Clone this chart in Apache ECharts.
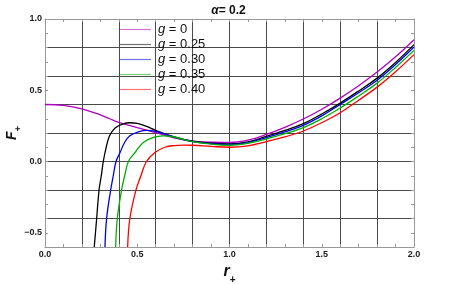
<!DOCTYPE html>
<html><head><meta charset="utf-8">
<script src="https://cdn.jsdelivr.net/npm/echarts@6/dist/echarts.min.js"></script>
<style>html,body{margin:0;padding:0;background:#fff}#c{width:457px;height:284px}</style>
</head><body><div id="c"></div>
<script>
// ---- data ----
const seriesNames = ['g = 0', 'g = 0.25', 'g = 0.30', 'g = 0.35', 'g = 0.40'];

const r_g0  = [0, 0.1, 0.2, 0.3, 0.35, 0.4, 0.5, 0.6, 0.7, 0.8, 0.9, 1.0, 1.1, 1.2, 1.3, 1.4, 1.5, 1.6, 1.7, 1.8, 1.9, 2.0];
const F_g0  = [0.400, 0.394, 0.370, 0.327, 0.300, 0.275, 0.238, 0.202, 0.166, 0.143, 0.135, 0.134, 0.150, 0.190, 0.240, 0.298, 0.367, 0.445, 0.532, 0.628, 0.735, 0.855];

const r_g25 = [0.267, 0.28, 0.293, 0.305, 0.316, 0.33, 0.35, 0.38, 0.42, 0.46, 0.5, 0.55, 0.6, 0.7, 0.8, 0.9, 1.0, 1.1, 1.2, 1.3, 1.4, 1.5, 1.6, 1.7, 1.8, 1.9, 2.0];
const F_g25 = [-0.6, -0.4, -0.2, -0.1, 0.0, 0.09, 0.18, 0.235, 0.263, 0.272, 0.267, 0.246, 0.218, 0.172, 0.142, 0.128, 0.124, 0.138, 0.176, 0.218, 0.266, 0.333, 0.410, 0.495, 0.585, 0.695, 0.820];

const r_g30 = [0.325, 0.334, 0.356, 0.37, 0.385, 0.407, 0.43, 0.46, 0.515, 0.55, 0.6, 0.7, 0.8, 0.9, 1.0, 1.1, 1.2, 1.3, 1.4, 1.5, 1.6, 1.7, 1.8, 1.9, 2.0];
const F_g30 = [-0.6, -0.4, -0.2, -0.1, 0.0, 0.063, 0.13, 0.18, 0.212, 0.219, 0.211, 0.171, 0.140, 0.126, 0.120, 0.133, 0.168, 0.208, 0.254, 0.320, 0.400, 0.482, 0.570, 0.680, 0.803];

const r_g35 = [0.383, 0.392, 0.415, 0.432, 0.452, 0.488, 0.533, 0.587, 0.64, 0.7, 0.8, 0.9, 1.0, 1.1, 1.2, 1.3, 1.4, 1.5, 1.6, 1.7, 1.8, 1.9, 2.0];
const F_g35 = [-0.6, -0.4, -0.2, -0.1, 0.0, 0.063, 0.134, 0.169, 0.180, 0.172, 0.139, 0.122, 0.114, 0.128, 0.158, 0.195, 0.238, 0.300, 0.375, 0.460, 0.550, 0.660, 0.780];

const r_g40 = [0.448, 0.46, 0.493, 0.52, 0.55, 0.596, 0.65, 0.7, 0.75, 0.8, 0.9, 1.0, 1.1, 1.2, 1.3, 1.4, 1.5, 1.6, 1.7, 1.8, 1.9, 2.0];
const F_g40 = [-0.6, -0.4, -0.2, -0.1, 0.0, 0.063, 0.100, 0.112, 0.115, 0.114, 0.106, 0.100, 0.110, 0.140, 0.172, 0.214, 0.272, 0.342, 0.430, 0.522, 0.630, 0.750];

const xTickLabels = [0, 0.5, 1.0, 1.5, 2.0];
const xMinorTicks = [0, 0.1, 0.2, 0.3, 0.4, 0.5, 0.6, 0.7, 0.8, 0.9, 1.0, 1.1, 1.2, 1.3, 1.4, 1.5, 1.6, 1.7, 1.8, 1.9, 2.0];
const yTickLabels = [-0.5, 0.0, 0.5, 1.0];
const yMinorTicks = [-0.6, -0.5, -0.4, -0.3, -0.2, -0.1, 0.0, 0.1, 0.2, 0.3, 0.4, 0.5, 0.6, 0.7, 0.8, 0.9, 1.0];

// ---- chart ----
const rs = [r_g0, r_g25, r_g30, r_g35, r_g40];
const Fs = [F_g0, F_g25, F_g30, F_g35, F_g40];
const colors = ['#b000c0', '#000000', '#0000e0', '#00b000', '#ff0000'];
const FONT = 'Liberation Sans, Arial, sans-serif';

function fmt(v) {
  const s = Math.abs(v).toFixed(1);
  return (v < -1e-9 ? '\u2212' : '') + s;
}

const series = seriesNames.map((name, i) => ({
  name: name,
  type: 'line',
  xAxisIndex: 0,
  yAxisIndex: 0,
  data: rs[i].map((r, k) => [r, Fs[i][k]]),
  showSymbol: false,
  symbol: 'none',
  smooth: 0.4,
  clip: true,
  color: colors[i],
  lineStyle: { width: 1.3, color: colors[i] }
}));

const axisCommonX = { type: 'value', min: 0, max: 2, interval: 0.2 };
const axisCommonY = { type: 'value', min: -0.6, max: 1.0, interval: 0.2 };
const gridLine = { show: true, lineStyle: { color: '#4a4a4a', width: 1 } };
const frameLine = { show: true, onZero: false, lineStyle: { color: '#999', width: 1 } };

const option = {
  animation: false,
  backgroundColor: '#ffffff',
  textStyle: { fontFamily: FONT },
  title: {
    text: '{a|\u03B1}{b|= 0.2}',
    left: 'center',
    top: 0,
    textStyle: {
      rich: {
        a: { fontFamily: FONT, fontSize: 12, fontWeight: 'bold', fontStyle: 'italic', color: '#111' },
        b: { fontFamily: FONT, fontSize: 12, fontWeight: 'bold', color: '#111' }
      }
    }
  },
  grid: { left: 45, right: 43, top: 19, bottom: 37, containLabel: false, outerBoundsMode: 'none' },
  legend: {
    orient: 'vertical',
    left: 115,
    top: 17,
    itemWidth: 31,
    itemHeight: 1.2,
    itemGap: 0,
    icon: 'rect',
    data: seriesNames.map((n, i) => ({ name: n, itemStyle: { color: colors[i], opacity: 0.55 } })),
    formatter: n => '{i|g}{t|' + n.slice(1) + '}',
    textStyle: {
      padding: [0, 0, 0, 2],
      lineHeight: 15,
      rich: {
        i: { fontFamily: FONT, fontSize: 13, fontStyle: 'italic', color: '#111', lineHeight: 15 },
        t: { fontFamily: FONT, fontSize: 13, color: '#111', lineHeight: 15 }
      }
    }
  },
  xAxis: [
    Object.assign({}, axisCommonX, {
      position: 'bottom',
      name: '{r|r}{s|+}',
      nameLocation: 'middle',
      nameGap: 12,
      nameMoveOverlap: false,
      nameTextStyle: {
        rich: {
          r: { fontFamily: FONT, fontSize: 16, fontWeight: 'bold', fontStyle: 'italic', color: '#111', verticalAlign: 'middle' },
          s: { fontFamily: FONT, fontSize: 10, fontWeight: 'bold', color: '#111', lineHeight: 26, verticalAlign: 'bottom' }
        }
      },
      axisLine: frameLine,
      splitLine: { show: false },
      axisTick: { show: true, inside: true, length: 3, customValues: xMinorTicks, lineStyle: { color: '#999' } },
      axisLabel: { customValues: xTickLabels, formatter: fmt, fontFamily: FONT, fontSize: 9, fontWeight: 'bold', color: '#222', margin: 3 }
    }),
    Object.assign({}, axisCommonX, {
      position: 'top',
      axisLine: frameLine,
      splitLine: gridLine,
      axisTick: { show: true, inside: true, length: 3, lineStyle: { color: '#999' } },
      minorTick: { show: true, splitNumber: 2, length: 3, lineStyle: { color: '#999' } },
      axisLabel: { show: false }
    })
  ],
  yAxis: [
    Object.assign({}, axisCommonY, {
      position: 'left',
      name: '{r|F}{s|+}',
      nameLocation: 'middle',
      nameRotate: 90,
      nameGap: 22,
      nameMoveOverlap: false,
      nameTextStyle: {
        rich: {
          r: { fontFamily: FONT, fontSize: 14, fontWeight: 'bold', fontStyle: 'italic', color: '#111', verticalAlign: 'middle' },
          s: { fontFamily: FONT, fontSize: 9, fontWeight: 'bold', color: '#111', lineHeight: 22, verticalAlign: 'bottom' }
        }
      },
      axisLine: frameLine,
      splitLine: { show: false },
      axisTick: { show: true, inside: true, length: 3, customValues: yMinorTicks, lineStyle: { color: '#999' } },
      axisLabel: { customValues: yTickLabels, formatter: fmt, fontFamily: FONT, fontSize: 9, fontWeight: 'bold', color: '#222', margin: 3 }
    }),
    Object.assign({}, axisCommonY, {
      position: 'right',
      axisLine: frameLine,
      splitLine: gridLine,
      axisTick: { show: true, inside: true, length: 3, lineStyle: { color: '#999' } },
      minorTick: { show: true, splitNumber: 2, length: 3, lineStyle: { color: '#999' } },
      axisLabel: { show: false }
    })
  ],
  series: series
};

const chart = echarts.init(document.getElementById('c'), null, { renderer: 'canvas' });
chart.setOption(option);
</script>
</body></html>
